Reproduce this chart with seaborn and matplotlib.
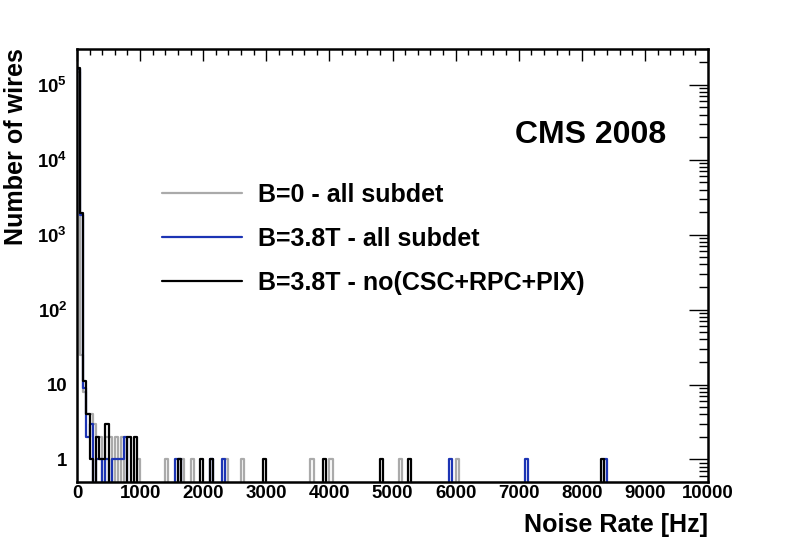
import numpy as np
import pandas as pd
import matplotlib
matplotlib.use("Agg")
import matplotlib.pyplot as plt
import seaborn as sns
from matplotlib import font_manager
from matplotlib.lines import Line2D
from matplotlib.ticker import FixedLocator, MultipleLocator, LogLocator, NullFormatter

# binning of the noise-rate histograms (Hz)
bin_width = 50
x_max = 10000

# B=0 - all subdet : lower bin edge -> number of wires
gray_bins = [0, 50, 100, 150, 200, 250, 300, 350, 450, 500, 600, 700,
             950, 1400, 1650, 1800, 2350, 2600, 3700, 4000, 5100, 6000]
gray_counts = [150000, 25, 8, 4, 4, 3, 2, 2, 2, 2, 2, 2,
               1, 1, 1, 1, 1, 1, 1, 1, 1, 1]

# B=3.8T - all subdet
blue_bins = [0, 50, 100, 150, 200, 300, 350, 450, 550, 600, 650, 700, 750,
             1550, 1600, 2100, 2300, 5900, 7100, 8350]
blue_counts = [160000, 1800, 9, 2, 3, 1, 1, 1, 1, 1, 1, 1, 2,
               1, 1, 1, 1, 1, 1, 1]

# B=3.8T - no(CSC+RPC+PIX)
black_bins = [0, 50, 100, 150, 200, 300, 350, 400, 450, 800, 900,
              1600, 1950, 2100, 2950, 3900, 4800, 5250, 8300]
black_counts = [165000, 1950, 11, 4, 1, 2, 1, 1, 3, 2, 2,
                1, 1, 1, 1, 1, 1, 1, 1]

labels = ["B=0 - all subdet", "B=3.8T - all subdet", "B=3.8T - no(CSC+RPC+PIX)"]
colors = ["#aaaaaa", "#1c34b4", "#000000"]

# the original uses Helvetica narrow; use Liberation Sans Narrow if present
installed = {f.name for f in font_manager.fontManager.ttflist}
if "Liberation Sans Narrow" in installed:
    family, k = "Liberation Sans Narrow", 1.0
else:
    family, k = "Liberation Sans", 0.84

sns.set_theme(style="white")
plt.rcParams["font.family"] = [family, "DejaVu Sans"]
plt.rcParams["font.weight"] = "bold"
plt.rcParams["text.color"] = "black"
plt.rcParams["xtick.color"] = "black"
plt.rcParams["ytick.color"] = "black"
plt.rcParams["mathtext.fontset"] = "custom"
plt.rcParams["mathtext.rm"] = family + ":bold"
plt.rcParams["mathtext.default"] = "rm"

fs_tick = 16 * k
fs_leg = 21.4 * k
fs_lab = 21.5 * k
fs_cms = 27.4 * k

fig = plt.figure(figsize=(7.88, 5.42), dpi=100)
ax = fig.add_axes([77 / 788, 60 / 542, 631 / 788, 433 / 542])
ax.set_yscale("log")

series = [(gray_bins, gray_counts), (blue_bins, blue_counts), (black_bins, black_counts)]
for (b, c), col in zip(series, colors):
    df = pd.DataFrame({"rate": np.array(b) + bin_width / 2, "wires": c})
    sns.histplot(data=df, x="rate", weights="wires", binwidth=bin_width,
                 binrange=(0, x_max), element="step", fill=False, color=col,
                 linewidth=1.6, ax=ax)

ax.set_xlim(0, x_max)
ax.set_ylim(0.5, 3e5)
ax.set_xlabel("")
ax.set_ylabel("")

# ticks, ROOT style
ax.xaxis.set_major_locator(MultipleLocator(1000))
ax.xaxis.set_minor_locator(MultipleLocator(200))
ax.yaxis.set_major_locator(FixedLocator([1, 10, 1e2, 1e3, 1e4, 1e5]))
ax.yaxis.set_minor_locator(LogLocator(base=10, subs=np.arange(2, 10)))
ax.yaxis.set_minor_formatter(NullFormatter())
ax.set_yticklabels(["1", "10", r"$10^{2}$", r"$10^{3}$", r"$10^{4}$", r"$10^{5}$"])
ax.set_xticks(np.arange(0, x_max + 1, 1000))
ax.set_xticklabels([str(v) for v in range(0, x_max + 1, 1000)])

ax.tick_params(which="both", direction="in", top=True, right=True, width=1.0,
               colors="black", labelsize=fs_tick)
ax.tick_params(axis="x", which="major", length=8.6, pad=2.5)
ax.tick_params(axis="x", which="minor", length=4.3)
ax.tick_params(axis="y", which="major", length=13.7, pad=7)
ax.tick_params(axis="y", which="minor", length=6.5)
for lab in ax.get_xticklabels() + ax.get_yticklabels():
    lab.set_fontweight("bold")
    lab.set_color("black")
for sp in ax.spines.values():
    sp.set_linewidth(1.8)
    sp.set_color("black")

# legend: 80 px lines, text 16 px after them, rows 43 px apart
em = fs_leg * 100 / 72
handles = [Line2D([0], [0], color=col, lw=1.6) for col in colors]
leg = fig.legend(handles, labels, loc="upper left",
                 bbox_to_anchor=(162 / 788, 1 - 183 / 542),
                 frameon=False, fontsize=fs_leg, handlelength=80 / em,
                 handletextpad=16 / em, labelspacing=43 / em - 0.93,
                 borderpad=0, borderaxespad=0)
for t in leg.get_texts():
    t.set_fontweight("bold")
    t.set_color("black")

fig.text(666 / 788, 1 - 143 / 542, "CMS 2008", ha="right", va="baseline",
         fontsize=fs_cms, fontweight="bold", color="black")
fig.text(708 / 788, 1 - 532 / 542, "Noise Rate [Hz]", ha="right", va="baseline",
         fontsize=fs_lab, fontweight="bold", color="black")
fig.text(16 / 788, 1 - 48 / 542, "Number of wires", ha="center", va="top",
         rotation=90, fontsize=fs_lab, fontweight="bold", color="black")

fig.savefig("out.png", dpi=100)
